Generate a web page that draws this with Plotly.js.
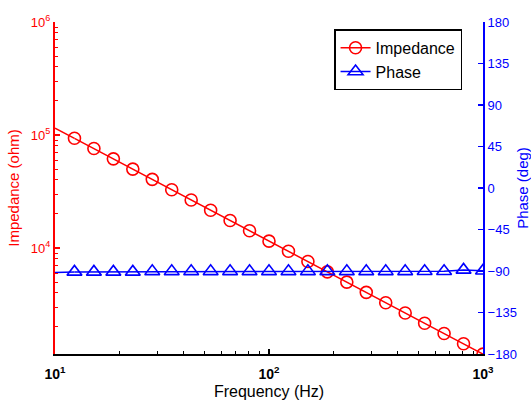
<!DOCTYPE html>
<html>
<head>
<meta charset="utf-8">
<script src="https://cdn.plot.ly/plotly-3.0.1.min.js"></script>
<style>html,body{margin:0;padding:0;background:#fff;}#chart{width:531px;height:400px;}</style>
</head>
<body>
<div id="chart"></div>
<script>
// Frequency (Hz) of each sample
var freq = [10, 12.33, 15.20, 18.74, 23.10, 28.48, 35.11, 43.29, 53.37, 65.79, 81.11, 100,
            123.3, 152.0, 187.4, 231.0, 284.8, 351.1, 432.9, 533.7, 657.9, 811.1, 1000];
// Impedance magnitude (ohm)
var impedance = [115000, 93500, 75900, 61500, 49900, 40500, 32800, 26600, 21600, 17500, 14200, 11500,
                 9350, 7590, 6150, 4990, 4050, 3280, 2660, 2160, 1750, 1420, 1150];
// Phase (deg)
var phase = [-91.5, -91.0, -91.0, -91.0, -91.0, -90.4, -90.4, -90.4, -90.4, -90.4, -90.4, -90.4,
             -90.4, -90.4, -90.4, -90.4, -90.4, -90.4, -90.4, -90.3, -90.3, -88.8, -89.8];

var leftTickVals = [1e4, 1e5, 1e6];
var leftTickText = ['10<sup>4</sup>', '10<sup>5</sup>', '10<sup>6</sup>'];
var xTickVals = [10, 100, 1000];
var xTickText = ['<b>10<sup>1</sup></b>', '<b>10<sup>2</sup></b>', '<b>10<sup>3</sup></b>'];
var phaseTicks = [-180, -135, -90, -45, 0, 45, 90, 135, 180];

var RED = '#ff0000', BLUE = '#0000ff';
var fam = 'Liberation Sans, Arial, sans-serif';

var traces = [
  // line segment before first marker (no legend)
  {x: freq.slice(0, 2), y: impedance.slice(0, 2), mode: 'lines', showlegend: false,
   line: {color: RED, width: 1.5}, hoverinfo: 'skip'},
  {x: freq.slice(1), y: impedance.slice(1), mode: 'lines+markers', name: 'Impedance',
   line: {color: RED, width: 1.5},
   marker: {symbol: 'circle-open', size: 12, color: RED, line: {color: RED, width: 1.6}}},
  {x: freq.slice(0, 2), y: phase.slice(0, 2), mode: 'lines', showlegend: false, yaxis: 'y2',
   line: {color: BLUE, width: 1.5}, hoverinfo: 'skip'},
  {x: freq.slice(1), y: phase.slice(1), mode: 'lines+markers', name: 'Phase', yaxis: 'y2',
   line: {color: BLUE, width: 1.5},
   marker: {symbol: 'triangle-up-open', size: 13, color: BLUE, line: {color: BLUE, width: 1.6}}}
];

var layout = {
  width: 531, height: 400,
  margin: {l: 55, r: 48, t: 22, b: 46},
  paper_bgcolor: '#fff', plot_bgcolor: '#fff',
  font: {family: fam, size: 13, color: '#000'},
  showlegend: true,
  legend: {x: 0.652, y: 0.978, xanchor: 'left', yanchor: 'top',
           bordercolor: '#000', borderwidth: 1.5, bgcolor: '#fff',
           font: {family: fam, size: 16, color: '#000'}, tracegroupgap: 0},
  xaxis: {
    type: 'log', range: [1, 3], showgrid: false, zeroline: false,
    showline: true, linecolor: '#000', linewidth: 2,
    ticks: 'inside', ticklen: 5, tickwidth: 1.5, tickcolor: '#000',
    tickmode: 'array', tickvals: xTickVals, ticktext: xTickText,
    tickfont: {family: fam, size: 14, color: '#000'}, ticklabelstandoff: 6,
    minor: {ticks: 'inside', ticklen: 3, tickwidth: 1, tickcolor: '#000', dtick: 'D1', showgrid: false},
    title: {text: 'Frequency (Hz)', font: {family: fam, size: 16, color: '#000'}, standoff: 8}
  },
  yaxis: {
    type: 'log', range: [3.062, 6], showgrid: false, zeroline: false,
    showline: true, linecolor: RED, linewidth: 2,
    ticks: 'inside', ticklen: 5, tickwidth: 1.5, tickcolor: RED,
    tickmode: 'array', tickvals: leftTickVals, ticktext: leftTickText,
    tickfont: {family: fam, size: 13, color: RED},
    minor: {ticks: 'inside', ticklen: 3, tickwidth: 1, tickcolor: RED, dtick: 'D1', showgrid: false},
    title: {text: 'Impedance (ohm)', font: {family: fam, size: 15, color: RED}, standoff: 8}
  },
  yaxis2: {
    overlaying: 'y', side: 'right', range: [-180, 180], showgrid: false, zeroline: false,
    showline: true, linecolor: BLUE, linewidth: 2,
    ticks: 'inside', ticklen: 5, tickwidth: 1.5, tickcolor: BLUE,
    tickmode: 'array', tickvals: phaseTicks,
    tickfont: {family: fam, size: 13, color: BLUE},
    title: {text: 'Phase (deg)', font: {family: fam, size: 15, color: BLUE}, standoff: 8}
  }
};

Plotly.newPlot('chart', traces, layout, {displayModeBar: false, staticPlot: true});
</script>
</body>
</html>
